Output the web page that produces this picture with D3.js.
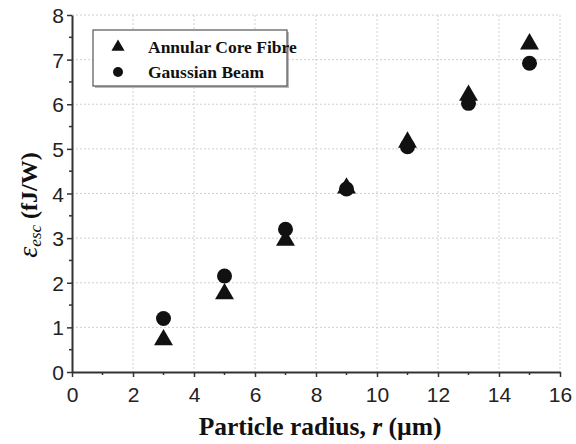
<!DOCTYPE html>
<html>
<head>
<meta charset="utf-8">
<script src="https://cdn.jsdelivr.net/npm/d3@7"></script>
<style>
  html, body { margin: 0; padding: 0; background: #fff; overflow: hidden; }
  svg { display: block; }
</style>
</head>
<body>
<div id="chart"></div>
<script>
// Escape energy vs particle radius

const radius = [3, 5, 7, 9, 11, 13, 15];
const annularCore = [0.72, 1.75, 2.95, 4.12, 5.15, 6.2, 7.35];
const gaussianBeam = [1.2, 2.15, 3.2, 4.1, 5.05, 6.02, 6.92];
const xTicks = [0, 2, 4, 6, 8, 10, 12, 14, 16];
const yTicks = [0, 1, 2, 3, 4, 5, 6, 7, 8];
const seriesNames = ["Annular Core Fibre", "Gaussian Beam"];

const width = 576;
const height = 444;
const margin = {top: 15, right: 16, bottom: 72, left: 72};

const svg = d3.select("#chart")
    .append("svg")
    .attr("width", width)
    .attr("height", height);

const inner = svg.append("g")
    .attr("transform", `translate(${margin.left}, ${margin.top})`);

const innerWidth = width - margin.left - margin.right;
const innerHeight = height - margin.top - margin.bottom;

const xScale = d3.scaleLinear().domain([0, 16]).range([0, innerWidth]);
const yScale = d3.scaleLinear().domain([0, 8]).range([innerHeight, 0]);

// dotted grid
inner.append("g")
    .selectAll("line")
    .data(xTicks.slice(1))
    .join("line")
    .attr("x1", d => xScale(d)).attr("x2", d => xScale(d))
    .attr("y1", 0).attr("y2", innerHeight)
    .attr("stroke", "#d0d0d0")
    .attr("stroke-dasharray", "2,2");

inner.append("g")
    .selectAll("line")
    .data(yTicks.slice(1))
    .join("line")
    .attr("x1", 0).attr("x2", innerWidth)
    .attr("y1", d => yScale(d)).attr("y2", d => yScale(d))
    .attr("stroke", "#d0d0d0")
    .attr("stroke-dasharray", "2,2");

// minor ticks
const xMinor = d3.range(1, 16, 2);
const yMinor = d3.range(0.5, 8, 1);

const xAxis = inner.append("g")
    .attr("transform", `translate(0, ${innerHeight})`)
    .call(d3.axisBottom(xScale).tickValues(xTicks).tickSize(5).tickSizeOuter(0));
xAxis.append("g").selectAll("line")
    .data(xMinor).join("line")
    .attr("x1", d => xScale(d)).attr("x2", d => xScale(d))
    .attr("y1", 0).attr("y2", 3)
    .attr("stroke", "#333").attr("stroke-width", 1.5);

const yAxis = inner.append("g")
    .call(d3.axisLeft(yScale).tickValues(yTicks).tickSize(5).tickSizeOuter(0));
yAxis.append("g").selectAll("line")
    .data(yMinor).join("line")
    .attr("x1", 0).attr("x2", -3)
    .attr("y1", d => yScale(d)).attr("y2", d => yScale(d))
    .attr("stroke", "#333").attr("stroke-width", 1.5);

[xAxis, yAxis].forEach(a => {
    a.select(".domain").attr("stroke", "#333").attr("stroke-width", 2);
    a.selectAll(".tick line").attr("stroke", "#333").attr("stroke-width", 1.5);
    a.selectAll(".tick text")
        .attr("font-family", "Liberation Sans, Arial, sans-serif")
        .attr("font-size", 21)
        .attr("fill", "#222")
        .attr("dy", null);
});
// baseline placement instead of dy offsets
xAxis.selectAll(".tick text").attr("y", 30);
yAxis.selectAll(".tick text").attr("x", -8).attr("y", 7.5);

// axis titles
svg.append("text")
    .attr("x", 320)
    .attr("y", 435)
    .attr("text-anchor", "middle")
    .attr("font-family", "Liberation Serif, Times New Roman, serif")
    .attr("font-weight", "bold")
    .attr("font-size", 25.5)
    .attr("fill", "#111")
    .html('Particle radius, <tspan font-style="italic">r</tspan> (\u00b5m)');

svg.append("text")
    .attr("transform", "translate(37, 205) rotate(-90)")
    .attr("text-anchor", "middle")
    .attr("font-family", "Liberation Serif, Times New Roman, serif")
    .attr("font-weight", "bold")
    .attr("font-size", 24)
    .attr("fill", "#111")
    .html('<tspan font-style="italic" font-weight="normal" font-size="28">\u03b5</tspan><tspan font-style="italic" font-weight="normal" font-size="17" dy="4">esc</tspan><tspan dy="-4"> (fJ/W)</tspan>');

// markers
const triangle = d3.symbol().type(d3.symbolTriangle).size(155);

inner.append("g")
    .selectAll("path")
    .data(radius.map((r, i) => ({x: r, y: annularCore[i]})))
    .join("path")
    .attr("d", triangle)
    .attr("transform", d => `translate(${xScale(d.x)}, ${yScale(d.y)})`)
    .attr("fill", "#111");

inner.append("g")
    .selectAll("circle")
    .data(radius.map((r, i) => ({x: r, y: gaussianBeam[i]})))
    .join("circle")
    .attr("cx", d => xScale(d.x))
    .attr("cy", d => yScale(d.y))
    .attr("r", 7.5)
    .attr("fill", "#111");

// legend
const legend = svg.append("g").attr("transform", "translate(93, 30)");
legend.append("rect")
    .attr("x", 2).attr("y", 2)
    .attr("width", 194).attr("height", 56)
    .attr("fill", "#bbb");
legend.append("rect")
    .attr("width", 194).attr("height", 56)
    .attr("fill", "#fff")
    .attr("stroke", "#555")
    .attr("stroke-width", 1.2);

legend.append("path")
    .attr("d", d3.symbol().type(d3.symbolTriangle).size(75))
    .attr("transform", "translate(25, 17)")
    .attr("fill", "#111");
legend.append("circle")
    .attr("cx", 25).attr("cy", 42).attr("r", 5)
    .attr("fill", "#111");

legend.selectAll("text.lbl")
    .data(seriesNames)
    .join("text")
    .attr("class", "lbl")
    .attr("x", 55)
    .attr("y", (d, i) => 23 + i * 25)
    .attr("font-family", "Liberation Serif, Times New Roman, serif")
    .attr("font-weight", "bold")
    .attr("font-size", 17.5)
    .attr("fill", "#111")
    .text(d => d);
</script>
</body>
</html>
